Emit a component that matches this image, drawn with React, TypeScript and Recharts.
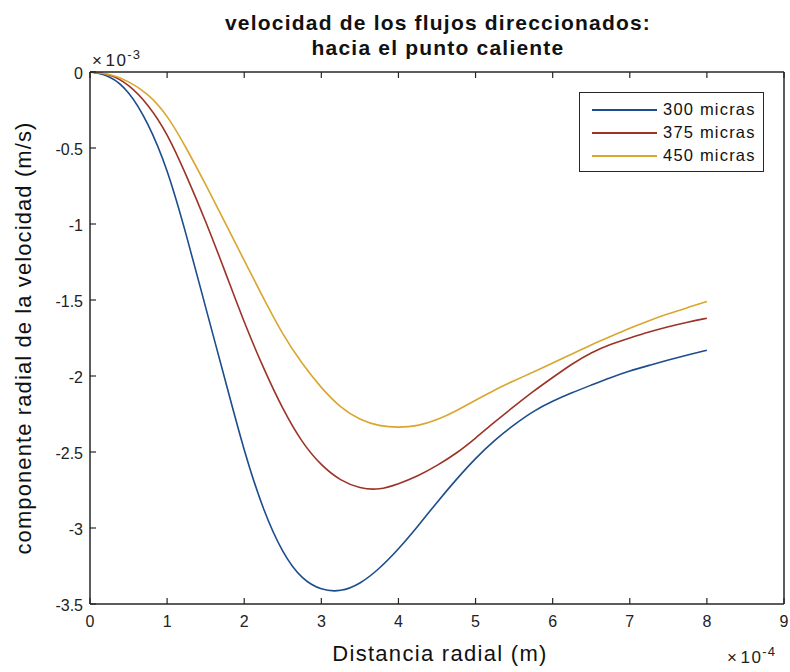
import { LineChart, Line, XAxis, YAxis, Legend } from "recharts";

// distancia radial (x 1e-4 m)
const xValues = [
  0, 0.25, 0.5, 0.75, 1, 1.25, 1.5, 1.75, 2, 2.25, 2.5, 2.75, 3, 3.25, 3.5, 3.75, 4,
  4.25, 4.5, 4.75, 5, 5.25, 5.5, 5.75, 6, 6.25, 6.5, 6.75, 7, 7.25, 7.5, 7.75, 8,
];

// componente radial de la velocidad (x 1e-3 m/s)
const v300 = [
  0, -0.02, -0.12, -0.33, -0.63, -1.07, -1.55, -2.02, -2.5, -2.89, -3.17, -3.34, -3.41, -3.42,
  -3.37, -3.27, -3.14, -2.99, -2.83, -2.68, -2.54, -2.42, -2.32, -2.23, -2.165, -2.11, -2.06,
  -2.01, -1.965, -1.93, -1.895, -1.862, -1.83,
];
const v375 = [
  0, -0.01, -0.08, -0.21, -0.4, -0.68, -0.98, -1.31, -1.65, -1.95, -2.22, -2.44, -2.59, -2.69,
  -2.74, -2.75, -2.71, -2.66, -2.59, -2.51, -2.41, -2.3, -2.2, -2.1, -2.01, -1.92, -1.845,
  -1.79, -1.75, -1.71, -1.675, -1.645, -1.62,
];
const v450 = [
  0, -0.01, -0.06, -0.14, -0.28, -0.5, -0.74, -0.99, -1.24, -1.49, -1.73, -1.92, -2.08, -2.21,
  -2.29, -2.33, -2.34, -2.33, -2.29, -2.23, -2.16, -2.09, -2.03, -1.975, -1.915, -1.855, -1.795,
  -1.74, -1.685, -1.635, -1.59, -1.55, -1.51,
];

const seriesNames = ["300 micras", "375 micras", "450 micras"];
const seriesColors = ["#1c4d8c", "#9c3327", "#d9a62e"];
const xTicks = [0, 1, 2, 3, 4, 5, 6, 7, 8, 9];
const yTicks = [0, -0.5, -1, -1.5, -2, -2.5, -3, -3.5];

const data = xValues.map((x, i) => ({
  x,
  s300: v300[i],
  s375: v375[i],
  s450: v450[i],
}));
const keys = ["s300", "s375", "s450"];

const AXIS = "#262626";
const FONT = "'Liberation Sans', Arial, sans-serif";

const BottomTick = (props: any) => {
  const { x, y, payload } = props;
  return (
    <g>
      <line x1={x} y1={y} x2={x} y2={y - 6} stroke={AXIS} strokeWidth={1.2} />
      <text x={x} y={y + 23} textAnchor="middle" fill="#222" fontSize={16} fontFamily={FONT}>
        {payload.value}
      </text>
    </g>
  );
};

const TopTick = (props: any) => {
  const { x, y } = props;
  return <line x1={x} y1={y} x2={x} y2={y + 6} stroke={AXIS} strokeWidth={1.2} />;
};

const LeftTick = (props: any) => {
  const { x, y, payload } = props;
  return (
    <g>
      <line x1={x} y1={y} x2={x + 6} y2={y} stroke={AXIS} strokeWidth={1.2} />
      <text x={x - 7} y={y + 6.5} textAnchor="end" fill="#222" fontSize={16} fontFamily={FONT}>
        {payload.value}
      </text>
    </g>
  );
};

const RightTick = (props: any) => {
  const { x, y } = props;
  return <line x1={x} y1={y} x2={x - 6} y2={y} stroke={AXIS} strokeWidth={1.2} />;
};

const renderLegend = () => (
  <div
    style={{
      width: 185,
      height: 80,
      boxSizing: "border-box",
      border: `1.5px solid ${AXIS}`,
      background: "#fff",
      padding: "5px 0 0 12px",
      fontFamily: FONT,
    }}
  >
    {seriesNames.map((name, i) => (
      <div key={name} style={{ display: "flex", alignItems: "center", height: 23 }}>
        <div style={{ width: 65, borderTop: `2px solid ${seriesColors[i]}`, marginRight: 6 }} />
        <span style={{ fontSize: 16.5, letterSpacing: 1.2, color: "#111" }}>{name}</span>
      </div>
    ))}
  </div>
);

const expStyle = {
  position: "absolute" as const,
  fontSize: 17,
  letterSpacing: 1.5,
  color: "#222",
  lineHeight: "20px",
  whiteSpace: "nowrap" as const,
};
const supStyle = {
  fontSize: 13,
  letterSpacing: 1,
  position: "relative" as const,
  top: -7,
  lineHeight: 0,
};

export default function App() {
  return (
    <div style={{ position: "absolute", left: 0, top: 0, width: 790, height: 672, background: "#fff", fontFamily: FONT }}>
      <LineChart width={790} height={672} data={data} margin={{ top: 70, right: 4, bottom: 38, left: 30 }}>
        <XAxis
          xAxisId="bottom"
          dataKey="x"
          type="number"
          domain={[0, 9]}
          ticks={xTicks}
          interval={0}
          height={30}
          tickSize={0}
          tickMargin={0}
          tickLine={false}
          axisLine={{ stroke: AXIS, strokeWidth: 1.5 }}
          tick={<BottomTick />}
        />
        <XAxis
          xAxisId="top"
          orientation="top"
          dataKey="x"
          type="number"
          domain={[0, 9]}
          ticks={xTicks}
          interval={0}
          height={2}
          tickSize={0}
          tickMargin={0}
          tickLine={false}
          axisLine={{ stroke: AXIS, strokeWidth: 1.5 }}
          tick={<TopTick />}
        />
        <YAxis
          yAxisId="left"
          type="number"
          domain={[-3.5, 0]}
          ticks={yTicks}
          interval={0}
          width={60}
          tickSize={0}
          tickMargin={0}
          tickLine={false}
          axisLine={{ stroke: AXIS, strokeWidth: 1.5 }}
          tick={<LeftTick />}
        />
        <YAxis
          yAxisId="right"
          orientation="right"
          type="number"
          domain={[-3.5, 0]}
          ticks={yTicks}
          interval={0}
          width={2}
          tickSize={0}
          tickMargin={0}
          tickLine={false}
          axisLine={{ stroke: AXIS, strokeWidth: 1.5 }}
          tick={<RightTick />}
        />
        {keys.map((k, i) => (
          <Line
            key={k}
            xAxisId="bottom"
            yAxisId="left"
            dataKey={k}
            name={seriesNames[i]}
            type="basis"
            stroke={seriesColors[i]}
            strokeWidth={1.6}
            dot={false}
            isAnimationActive={false}
          />
        ))}
        <Legend
          layout="horizontal"
          verticalAlign="middle"
          align="center"
          content={renderLegend}
          wrapperStyle={{ left: 579, top: 92, width: 185, height: 80 }}
        />
      </LineChart>

      <div
        style={{
          position: "absolute",
          left: 0,
          width: 876,
          top: 10,
          textAlign: "center",
          fontWeight: "bold",
          fontSize: 21,
          letterSpacing: 1.2,
          lineHeight: "25px",
          color: "#111",
        }}
      >
        velocidad de los flujos direccionados:
        <br />
        hacia el punto caliente
      </div>

      <div style={{ ...expStyle, left: 92, top: 51 }}>
        <span style={{ marginRight: 2 }}>×</span>10<span style={supStyle}>-3</span>
      </div>
      <div style={{ ...expStyle, left: 727, top: 648 }}>
        <span style={{ marginRight: 2 }}>×</span>10<span style={supStyle}>-4</span>
      </div>

      <div
        style={{
          position: "absolute",
          left: 0,
          width: 880,
          top: 642,
          textAlign: "center",
          fontSize: 22,
          letterSpacing: 1.3,
          lineHeight: "24px",
          color: "#111",
        }}
      >
        Distancia radial (m)
      </div>

      <div
        style={{
          position: "absolute",
          left: 24 - 250,
          top: 338 - 12,
          width: 500,
          height: 24,
          lineHeight: "24px",
          textAlign: "center",
          fontSize: 22,
          letterSpacing: 1.1,
          color: "#111",
          transform: "rotate(-90deg)",
          transformOrigin: "250px 12px",
        }}
      >
        componente radial de la velocidad (m/s)
      </div>
    </div>
  );
}
